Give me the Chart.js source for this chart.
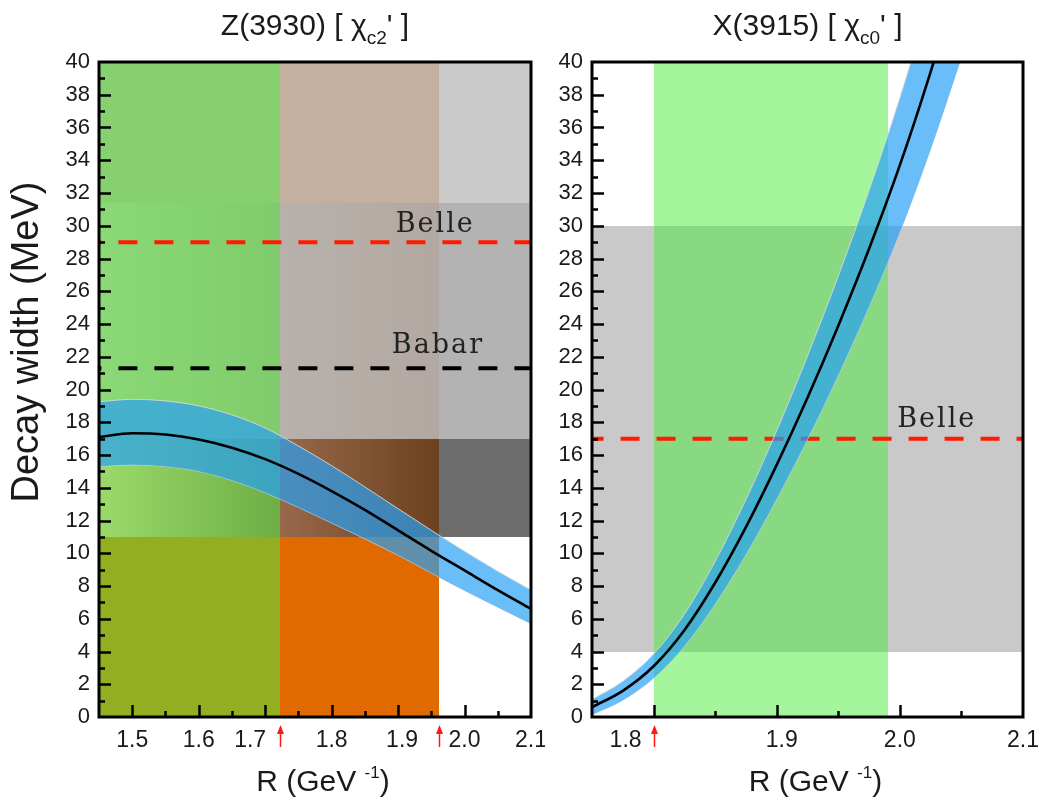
<!DOCTYPE html>
<html>
<head>
<meta charset="utf-8">
<script src="https://cdn.jsdelivr.net/npm/chart.js@4.4.1/dist/chart.umd.min.js"></script>
<style>
  body { margin: 0; background: #fff; }
  canvas { position: absolute; top: 0; }
  #left { left: 0; }
  #right { left: 545px; }
</style>
</head>
<body>
<canvas id="left" width="545" height="802"></canvas>
<canvas id="right" width="493" height="802"></canvas>
<script>
// Z(3930) panel
let zR      = [1.45, 1.50, 1.55, 1.60, 1.65, 1.70, 1.75, 1.80, 1.85, 1.90, 1.95, 2.00, 2.05, 2.10];
let zWidth  = [17.1, 17.33, 17.25, 16.95, 16.45, 15.75, 14.85, 13.8, 12.65, 11.4, 10.15, 8.95, 7.75, 6.6];
let zUpper  = [19.25, 19.4, 19.3, 19.0, 18.45, 17.65, 16.55, 15.35, 14.05, 12.72, 11.4, 10.12, 8.9, 7.75];
let zLower  = [15.3, 15.4, 15.3, 15.0, 14.45, 13.7, 12.8, 11.85, 10.88, 9.88, 8.8, 7.72, 6.7, 5.7];
let zBelle  = 29.0;
let zBabar  = 21.3;
let zBandR  = [1.45, 1.722, 1.962, 2.10];
let zBandW  = [0, 11, 17, 31.4, 40];
let zArrows = [1.722, 1.962];
let zTicks  = [1.5, 1.6, 1.7, 1.8, 1.9, 2.0, 2.1];

// X(3915) panel
let xR      = [1.75, 1.775, 1.80, 1.825, 1.85, 1.875, 1.90, 1.925, 1.95, 1.975, 2.00, 2.025, 2.05];
let xWidth  = [0.6, 1.6, 3.1, 5.3, 8.2, 11.6, 15.4, 19.5, 23.9, 28.6, 33.7, 39.4, 45.7];
let xUpper  = [1.07, 2.18, 3.84, 6.28, 9.5, 13.28, 17.49, 22.05, 26.93, 32.15, 37.81, 44.13, 51.13];
let xLower  = [0.13, 1.02, 2.36, 4.32, 6.9, 9.92, 13.31, 16.95, 20.87, 25.05, 29.59, 34.67, 40.27];
let xBelle  = 17.0;
let xBandR  = [1.80, 1.99];
let xBandW  = [4, 30];
let xArrows = [1.80];
let xTicks  = [1.8, 1.9, 2.0, 2.1];

// colours of the Z(3930) cells, column by column, bottom row first
let zCellColors = [
    ['#94ae22', ['#9bda6a', '#6dae45'], ['#8ad876', '#80cc6c'], '#87d06f'],
    ['#e06a00', ['#98694a', '#6c411f'], ['#b8b1ab', '#b2a8a1'], '#c4b0a0'],
    [null, '#6e6d6d', '#b3b3b3', '#cacaca']
];

const textColor = '#1a1a1a';
const sans = '"Liberation Sans", Arial, sans-serif';

function pts(R, ys)
{
    return R.map(function(r, i) { return { x: r, y: ys[i] }; });
}

function fillCell(chart, r0, r1, w0, w1, color)
{
    if (!color) return;
    let ctx = chart.ctx;
    let x0 = Math.round(chart.scales.x.getPixelForValue(r0));
    let x1 = Math.round(chart.scales.x.getPixelForValue(r1));
    let y0 = Math.round(chart.scales.y.getPixelForValue(w0));
    let y1 = Math.round(chart.scales.y.getPixelForValue(w1));
    let fill = color;
    if (Array.isArray(color)) {
        fill = ctx.createLinearGradient(x0, 0, x1, 0);
        fill.addColorStop(0, color[0]);
        fill.addColorStop(1, color[1]);
    }
    ctx.fillStyle = fill;
    ctx.fillRect(x0, y1, x1 - x0, y0 - y1);
}

function drawRich(ctx, parts, cx, baseline)
{
    let total = 0;
    parts.forEach(function(p) {
        ctx.font = p.size + 'px ' + sans;
        p.w = ctx.measureText(p.t).width;
        total += p.w;
    });
    let x = cx - total / 2;
    ctx.fillStyle = textColor;
    ctx.textAlign = 'left';
    ctx.textBaseline = 'alphabetic';
    parts.forEach(function(p) {
        ctx.font = p.size + 'px ' + sans;
        ctx.fillText(p.t, x, baseline + (p.dy || 0));
        x += p.w;
    });
}

function makePanel(cfg)
{
    return {
        id: 'panel',
        beforeDatasetsDraw: function(chart) {
            let ctx = chart.ctx;
            ctx.save();
            cfg.cells(chart);
            ctx.restore();
        },
        afterDatasetsDraw: function(chart) {
            let ctx = chart.ctx;
            let a = chart.chartArea;
            let xs = chart.scales.x, ys = chart.scales.y;
            ctx.save();
            ctx.strokeStyle = '#000';
            ctx.lineWidth = 2.5;
            ctx.beginPath();
            // inward ticks on the left axis
            for (let k = 1; k < 40; k++) {
                let y = Math.round(ys.getPixelForValue(k)) + 0.5;
                let len = (k % 2 === 0) ? 12 : 6;
                ctx.moveTo(a.left, y);
                ctx.lineTo(a.left + len, y);
            }
            // inward ticks on the bottom axis
            let k0 = Math.ceil(xs.min / 0.05 - 1e-6), k1 = Math.floor(xs.max / 0.05 + 1e-6);
            for (let k = k0; k <= k1; k++) {
                let v = k * 0.05;
                if (Math.abs(v - xs.min) < 1e-6 || Math.abs(v - xs.max) < 1e-6) continue;
                let x = Math.round(xs.getPixelForValue(v)) + 0.5;
                let len = (k % 2 === 0) ? 12 : 6;
                ctx.moveTo(x, a.bottom);
                ctx.lineTo(x, a.bottom - len);
            }
            ctx.stroke();
            ctx.lineWidth = 3;
            ctx.strokeRect(a.left, a.top, a.right - a.left, a.bottom - a.top);

            // x tick labels
            ctx.fillStyle = textColor;
            ctx.font = '23px ' + sans;
            ctx.textAlign = 'center';
            ctx.textBaseline = 'middle';
            cfg.ticks.forEach(function(v) {
                let shift = cfg.shift[v.toFixed(1)] || 0;
                ctx.fillText(v.toFixed(1), xs.getPixelForValue(v) + shift, a.bottom + 24);
            });

            // red arrows under the axis
            ctx.strokeStyle = '#ff1a1a';
            ctx.fillStyle = '#ff1a1a';
            ctx.lineWidth = 1.5;
            cfg.arrows.forEach(function(v) {
                let x = Math.round(xs.getPixelForValue(v)) + 0.5;
                ctx.beginPath();
                ctx.moveTo(x, a.bottom + 30);
                ctx.lineTo(x, a.bottom + 14);
                ctx.stroke();
                ctx.beginPath();
                ctx.moveTo(x, a.bottom + 8);
                ctx.lineTo(x - 3.5, a.bottom + 17);
                ctx.lineTo(x + 3.5, a.bottom + 17);
                ctx.closePath();
                ctx.fill();
            });

            // experiment labels
            ctx.fillStyle = '#222';
            ctx.font = '27px "DejaVu Serif", serif';
            ctx.letterSpacing = '2px';
            ctx.textAlign = 'center';
            ctx.textBaseline = 'alphabetic';
            cfg.notes.forEach(function(n) {
                ctx.fillText(n.t, xs.getPixelForValue(n.r), ys.getPixelForValue(n.w));
            });
            ctx.letterSpacing = '0px';

            // titles
            let cx = (a.left + a.right) / 2;
            drawRich(ctx, cfg.title, cx, 35);
            drawRich(ctx, [
                { t: 'R (GeV ', size: 30 },
                { t: '-1', size: 17, dy: -13 },
                { t: ')', size: 30 }
            ], cx + 8, 791);

            if (cfg.yTitle) {
                ctx.save();
                ctx.translate(28, 342);
                ctx.rotate(-Math.PI / 2);
                ctx.font = '38px ' + sans;
                ctx.textAlign = 'center';
                ctx.textBaseline = 'middle';
                ctx.fillStyle = textColor;
                ctx.fillText('Decay width (MeV)', 0, 0);
                ctx.restore();
            }
            ctx.restore();
        }
    };
}

function curveSets(R, mid, up, lo, dashed)
{
    let edge = 'rgba(215,215,215,0.9)';
    let sets = [
        { data: pts(R, mid), borderColor: '#000', borderWidth: 2.6, fill: false },
        { data: pts(R, up), borderColor: edge, borderWidth: 1, fill: '+1', backgroundColor: 'rgba(37,160,245,0.69)' },
        { data: pts(R, lo), borderColor: edge, borderWidth: 1, fill: false }
    ];
    dashed.forEach(function(d) {
        sets.push({ data: [{ x: R[0] - 1, y: d.w }, { x: 3, y: d.w }], borderColor: d.c, borderWidth: 4, borderDash: [19, 17], fill: false });
    });
    sets.forEach(function(s) {
        s.pointRadius = 0;
        s.clip = 0;
        s.cubicInterpolationMode = 'monotone';
    });
    return sets;
}

function makeOptions(xmin, xmax, yWidth, padRight)
{
    return {
        responsive: false,
        animation: false,
        layout: { padding: { top: 62, right: padRight, left: 0, bottom: 0 } },
        plugins: { legend: { display: false }, tooltip: { enabled: false } },
        scales: {
            x: {
                type: 'linear', min: xmin, max: xmax,
                grid: { display: false }, border: { display: false },
                ticks: { display: false },
                afterFit: function(s) { s.height = 85; }
            },
            y: {
                min: 0, max: 40,
                grid: { display: false, drawTicks: false }, border: { display: false },
                ticks: { stepSize: 2, autoSkip: false, padding: 9, color: textColor, font: { family: sans, size: 22 } },
                afterFit: function(s) { s.width = yWidth; }
            }
        }
    };
}

let leftPanel = makePanel({
    cells: function(chart) {
        for (let c = 0; c < zBandR.length - 1; c++)
            for (let r = 0; r < zBandW.length - 1; r++)
                fillCell(chart, zBandR[c], zBandR[c + 1], zBandW[r], zBandW[r + 1], zCellColors[c][r]);
    },
    ticks: zTicks,
    shift: { '1.7': -15, '1.9': 4 },
    arrows: zArrows,
    notes: [{ t: 'Belle', r: 1.956, w: 29.6 }, { t: 'Babar', r: 1.96, w: 22.2 }],
    title: [{ t: 'Z(3930) [ \u03c7', size: 30 }, { t: 'c2', size: 19, dy: 9 }, { t: "' ]", size: 30 }],
    yTitle: true
});

let rightPanel = makePanel({
    cells: function(chart) {
        fillCell(chart, 1.75, 2.1, xBandW[0], xBandW[1], '#c9c9c9');
        fillCell(chart, xBandR[0], xBandR[1], 0, xBandW[0], '#a5f59c');
        fillCell(chart, xBandR[0], xBandR[1], xBandW[1], 40, '#a5f59c');
        fillCell(chart, xBandR[0], xBandR[1], xBandW[0], xBandW[1], '#89d882');
    },
    ticks: xTicks,
    shift: { '1.8': -28, '1.9': 5 },
    arrows: xArrows,
    notes: [{ t: 'Belle', r: 2.03, w: 17.7 }],
    title: [{ t: 'X(3915) [ \u03c7', size: 30 }, { t: 'c0', size: 19, dy: 9 }, { t: "' ]", size: 30 }],
    yTitle: false
});

new Chart(document.getElementById('left').getContext('2d'), {
    type: 'line',
    data: { datasets: curveSets(zR, zWidth, zUpper, zLower, [{ w: zBelle, c: '#ff1a00' }, { w: zBabar, c: '#000' }]) },
    options: makeOptions(1.45, 2.1, 99, 14),
    plugins: [leftPanel]
});

new Chart(document.getElementById('right').getContext('2d'), {
    type: 'line',
    data: { datasets: curveSets(xR, xWidth, xUpper, xLower, [{ w: xBelle, c: '#ff1a00' }]) },
    options: makeOptions(1.75, 2.1, 47, 15),
    plugins: [rightPanel]
});
</script>
</body>
</html>
